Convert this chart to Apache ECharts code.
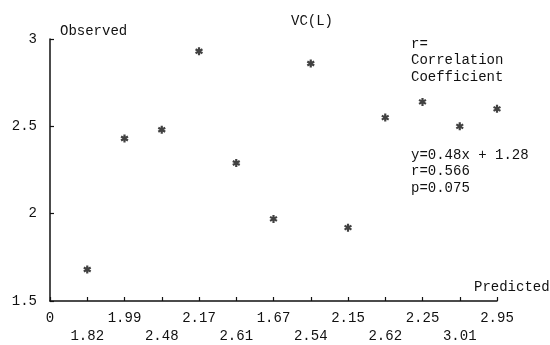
<!DOCTYPE html>
<html>
<head>
<meta charset="utf-8">
<script src="https://cdn.jsdelivr.net/npm/echarts@6/dist/echarts.min.js"></script>
<style>
  html, body { margin: 0; padding: 0; background: #fff; }
  #chart { width: 550px; height: 345px; }
</style>
</head>
<body>
<div id="chart"></div>
<script>
// predicted values shown under each point (index 0 is the origin)
const predictedLabels = ['0', '1.82', '1.99', '2.48', '2.17', '2.61', '1.67', '2.54', '2.15', '2.62', '2.25', '3.01', '2.95'];
// observed VC(L) values, one per position 1..12
const observed = [1.68, 2.43, 2.48, 2.93, 2.29, 1.97, 2.86, 1.92, 2.55, 2.64, 2.50, 2.60];
const yTicks = [1.5, 2, 2.5, 3];
const statsLines = ['y=0.48x + 1.28', 'r=0.566', 'p=0.075'];
const noteLines = ['r=', 'Correlation', 'Coefficient'];

const FONT = '"Liberation Mono", monospace';
const INK = '#111';

// asterisk marker: three crossed bars, all wound the same way
const star = 'path://M-1.1,-4L1.1,-4L1.1,4L-1.1,4Z' +
  'M4.014,1.047L2.914,2.953L-4.014,-1.047L-2.914,-2.953Z' +
  'M-2.914,2.953L-4.014,1.047L2.914,-2.953L4.014,-1.047Z';

const points = observed.map((v, i) => [i + 1, v]);

const chart = echarts.init(document.getElementById('chart'));
chart.setOption({
  backgroundColor: '#fff',
  animation: false,
  textStyle: { fontFamily: FONT, color: INK },
  title: {
    text: 'VC(L)',
    left: 286,
    top: 9,
    textStyle: { fontFamily: FONT, fontSize: 14, fontWeight: 'normal', color: INK }
  },
  grid: { left: 50, right: 53, top: 39, bottom: 42 },
  xAxis: {
    type: 'value',
    min: 0,
    max: 12,
    interval: 1,
    splitLine: { show: false },
    axisLine: { lineStyle: { color: INK, width: 1.5 } },
    axisTick: { inside: true, length: 4, lineStyle: { color: INK, width: 1.2 } },
    axisLabel: {
      color: INK,
      fontFamily: FONT,
      fontSize: 14,
      margin: 8,
      lineHeight: 18,
      showMinLabel: true,
      showMaxLabel: true,
      formatter: v => {
        const lab = predictedLabels[Math.round(v)];
        return Math.round(v) % 2 === 1 ? '\n' + lab : lab;
      }
    }
  },
  yAxis: {
    type: 'value',
    min: yTicks[0],
    max: yTicks[yTicks.length - 1],
    interval: 0.5,
    splitLine: { show: false },
    axisLine: { lineStyle: { color: INK, width: 1.5 } },
    axisTick: { inside: true, length: 4, lineStyle: { color: INK, width: 1.2 } },
    axisLabel: {
      color: INK,
      fontFamily: FONT,
      fontSize: 14,
      margin: 13,
      formatter: v => String(v)
    }
  },
  graphic: [
    {
      type: 'text', left: 60, top: 24,
      style: { text: 'Observed', font: '14px ' + FONT, fill: INK }
    },
    {
      type: 'text', left: 474, top: 280,
      style: { text: 'Predicted', font: '14px ' + FONT, fill: INK }
    },
    {
      type: 'text', left: 411, top: 36,
      style: { text: noteLines.join('\n'), font: '14px ' + FONT, lineHeight: 16.5, fill: INK }
    },
    {
      type: 'text', left: 411, top: 147,
      style: { text: statsLines.join('\n'), font: '14px ' + FONT, lineHeight: 16.5, fill: INK }
    }
  ],
  series: [
    {
      type: 'scatter',
      data: points,
      symbol: star,
      symbolSize: 8,
      itemStyle: { color: INK }
    }
  ]
});
</script>
</body>
</html>
